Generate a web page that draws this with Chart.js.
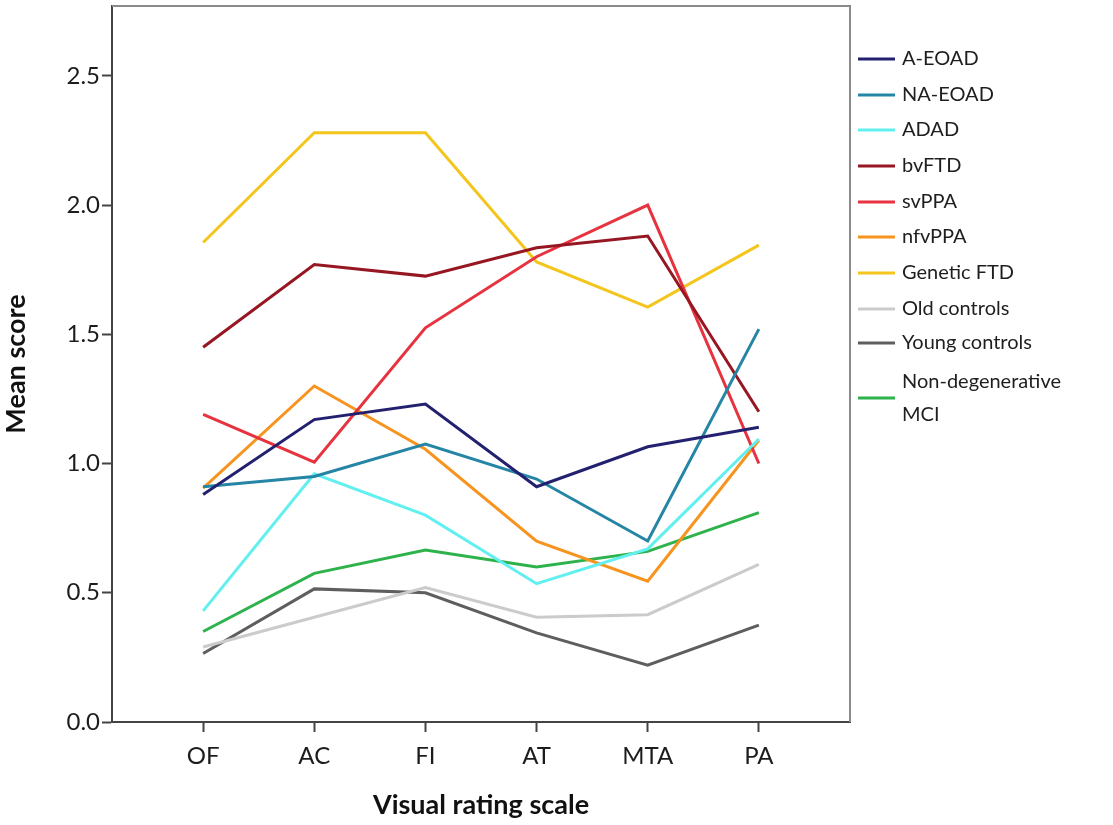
<!DOCTYPE html>
<html>
<head>
<meta charset="utf-8">
<script src="https://cdn.jsdelivr.net/npm/chart.js@4.4.1/dist/chart.umd.min.js"></script>
<style>
  html, body { margin: 0; padding: 0; background: #fff; }
  #wrap { width: 1113px; height: 825px; }
</style>
</head>
<body>
<div id="wrap"><canvas id="scoreChart" width="1113" height="825"></canvas></div>
<script>
// visual rating scales on the x axis
const scales = ['OF', 'AC', 'FI', 'AT', 'MTA', 'PA'];

// mean score per group
const aEoad = [0.88, 1.17, 1.23, 0.91, 1.065, 1.14];
const naEoad = [0.91, 0.95, 1.075, 0.94, 0.70, 1.52];
const adad = [0.43, 0.96, 0.80, 0.535, 0.67, 1.095];
const bvFtd = [1.45, 1.77, 1.725, 1.835, 1.88, 1.20];
const svPpa = [1.19, 1.005, 1.525, 1.80, 2.0, 1.0];
const nfvPpa = [0.905, 1.30, 1.055, 0.70, 0.545, 1.09];
const geneticFtd = [1.855, 2.28, 2.28, 1.78, 1.605, 1.845];
const oldControls = [0.29, 0.405, 0.52, 0.405, 0.415, 0.61];
const youngControls = [0.265, 0.515, 0.50, 0.345, 0.22, 0.375];
const nonDegMci = [0.35, 0.575, 0.665, 0.60, 0.66, 0.81];

const yTicks = [0, 0.5, 1.0, 1.5, 2.0, 2.5];

const FONT = 'Lato, "Open Sans", sans-serif';

function pts(arr) {
  return arr.map((v, i) => ({ x: i + 1, y: v }));
}

const groups = [
  { label: 'A-EOAD', data: aEoad, color: '#23216f' },
  { label: 'NA-EOAD', data: naEoad, color: '#2585a5' },
  { label: 'ADAD', data: adad, color: '#62efef' },
  { label: 'bvFTD', data: bvFtd, color: '#961622' },
  { label: 'svPPA', data: svPpa, color: '#e6333f' },
  { label: 'nfvPPA', data: nfvPpa, color: '#f7941f' },
  { label: 'Genetic FTD', data: geneticFtd, color: '#f4c51c' },
  { label: 'Old controls', data: oldControls, color: '#cbcbcb' },
  { label: 'Young controls', data: youngControls, color: '#5e5e5e' },
  { label: ['Non-degenerative', 'MCI'], data: nonDegMci, color: '#2eb24b' }
];

// legend on the right, drawn by hand so it sits like the original
const sideLegend = {
  id: 'sideLegend',
  afterDraw(chart) {
    const ctx = chart.ctx;
    const a = chart.chartArea;
    ctx.save();
    // frame top and right
    ctx.strokeStyle = '#8a8a8a';
    ctx.lineWidth = 2;
    ctx.beginPath();
    ctx.moveTo(a.left, a.top);
    ctx.lineTo(a.right, a.top);
    ctx.lineTo(a.right, a.bottom);
    ctx.stroke();

    ctx.font = '20px ' + FONT;
    ctx.textBaseline = 'middle';
    ctx.fillStyle = '#1e1e1e';
    const ys = [59, 95, 130, 166, 202, 237, 273, 309, 343, 398];
    chart.data.datasets.forEach((ds, i) => {
      const y = ys[i];
      ctx.strokeStyle = ds.borderColor;
      ctx.lineWidth = 3;
      ctx.beginPath();
      ctx.moveTo(858, y);
      ctx.lineTo(895, y);
      ctx.stroke();
      const lines = Array.isArray(ds.label) ? ds.label : [ds.label];
      const off = (lines.length - 1) * 16.5;
      lines.forEach((t, k) => ctx.fillText(t, 902, y - off + k * 33));
    });
    ctx.restore();
  }
};

const config = {
  type: 'line',
  data: {
    datasets: groups.map(g => ({
      label: g.label,
      data: pts(g.data),
      borderColor: g.color,
      backgroundColor: g.color,
      borderWidth: 3,
      pointRadius: 0,
      tension: 0,
      fill: false
    }))
  },
  options: {
    responsive: false,
    animation: false,
    layout: { padding: { top: 6, right: 263, left: 0, bottom: 0 } },
    plugins: {
      legend: { display: false },
      tooltip: { enabled: false }
    },
    scales: {
      x: {
        type: 'linear',
        min: 0.18,
        max: 6.82,
        afterBuildTicks(scale) {
          scale.ticks = scales.map((s, i) => ({ value: i + 1 }));
        },
        afterFit(scale) {
          scale.height = 103;
          scale.paddingLeft = 0;
          scale.paddingRight = 0;
        },
        ticks: {
          callback: (v) => scales[v - 1],
          color: '#1c1c1c',
          font: { family: FONT, size: 24 },
          padding: 10,
          maxRotation: 0
        },
        grid: {
          drawOnChartArea: false,
          drawTicks: true,
          tickLength: 10,
          tickColor: '#444',
          tickWidth: 2
        },
        border: { display: true, color: '#444', width: 2 },
        title: {
          display: true,
          text: 'Visual rating scale',
          color: '#111',
          font: { family: FONT, size: 27, weight: 'bold' },
          padding: { top: 0 }
        }
      },
      y: {
        min: 0,
        max: 2.77,
        afterBuildTicks(scale) {
          scale.ticks = yTicks.map(v => ({ value: v }));
        },
        afterFit(scale) {
          scale.width = 112;
          scale.paddingTop = 0;
          scale.paddingBottom = 0;
        },
        ticks: {
          callback: (v) => v.toFixed(1),
          color: '#1c1c1c',
          font: { family: FONT, size: 24 },
          padding: 2
        },
        grid: {
          drawOnChartArea: false,
          drawTicks: true,
          tickLength: 10,
          tickColor: '#444',
          tickWidth: 2
        },
        border: { display: true, color: '#444', width: 2 },
        title: {
          display: true,
          text: 'Mean score',
          color: '#111',
          font: { family: FONT, size: 27, weight: 'bold' },
          padding: 0
        }
      }
    }
  },
  plugins: [sideLegend]
};

const ctxScore = document.getElementById('scoreChart');
window.scoreChart = new Chart(ctxScore, config);
</script>
</body>
</html>
